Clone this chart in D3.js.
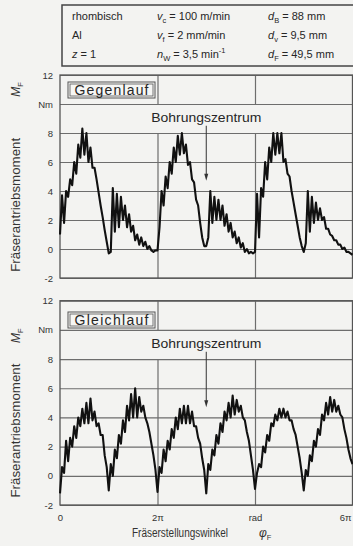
<!DOCTYPE html>
<html>
<head>
<meta charset="utf-8">
<script src="https://cdn.jsdelivr.net/npm/d3@7"></script>
<style>
  body { margin: 0; background: #f3f3f1; }
  svg { display: block; font-family: "Liberation Sans", Arial, sans-serif; }
</style>
</head>
<body>
<svg width="353" height="546"></svg>
<script>
const sampleStep = Math.PI / 24;

// Gegenlauf (up milling), one array per 2*pi revolution
const gegenRev1 = [1.0, 3.7, 1.8, 4.0, 3.6, 4.8, 4.4, 6.0, 5.2, 7.2, 6.3, 8.3, 6.5, 8.0, 6.0, 7.0,
  5.6, 5.6, 4.8, 3.9, 3.0, 2.2, 1.3, 0.5, -0.3, -0.2, 4.2, 1.2, 3.8, 1.5, 3.6, 2.0,
  3.0, 1.5, 2.4, 1.2, 1.6, 0.6, 1.0, 0.3, 0.8, 0.2, 0.5, 0.0, 0.2, -0.1, -0.2, -0.1];
const gegenRev2 = [-0.1, 1.5, 4.0, 3.0, 5.0, 4.2, 6.0, 5.2, 7.0, 6.0, 7.8, 6.5, 8.0, 6.6, 7.2, 5.8,
  6.0, 4.8, 4.6, 3.4, 3.0, 1.8, 0.8, 0.2, 0.2, 0.8, 4.0, 1.8, 3.6, 2.0, 3.4, 2.0,
  3.0, 1.6, 2.4, 1.2, 1.8, 0.8, 1.2, 0.4, 0.8, 0.1, 0.4, -0.2, 0.0, -0.3, -0.2, -0.3];
const gegenRev3 = [-0.2, 3.8, 0.8, 4.2, 3.6, 6.0, 4.8, 7.0, 6.0, 8.0, 6.5, 8.0, 6.6, 8.0, 6.0, 6.2,
  5.2, 5.0, 4.0, 3.2, 2.4, 1.6, 0.8, 0.2, -0.2, 0.4, 4.0, 1.2, 3.6, 1.8, 3.2, 2.0,
  2.8, 2.0, 2.2, 1.4, 1.4, 1.0, 0.9, 0.6, 0.6, 0.3, 0.3, 0.0, 0.1, -0.2, -0.2, -0.3, -0.4];

// Gleichlauf (down milling), one array per pi half revolution
const gleichHalf1 = [-1.2, 0.6, 0.2, 2.4, 1.0, 2.6, 2.0, 3.4, 2.6, 4.0, 3.4, 4.6, 3.6, 5.0, 3.6, 5.3, 3.8, 4.4, 3.4, 3.6, 2.8, 2.8, 1.4, 0.6];
const gleichHalf2 = [-1.0, 0.8, 0.0, 1.8, 1.2, 2.8, 2.2, 3.8, 3.0, 4.8, 3.8, 5.6, 4.0, 6.0, 4.0, 5.4, 4.4, 4.8, 4.0, 3.6, 3.0, 2.2, 1.4, 0.4];
const gleichHalf3 = [-1.1, 0.6, 0.2, 1.8, 1.0, 2.4, 1.8, 3.2, 2.6, 4.0, 3.2, 4.6, 3.6, 4.8, 3.6, 4.8, 3.6, 4.4, 3.4, 3.4, 2.6, 2.2, 1.2, 0.4];
const gleichHalf4 = [-1.2, 0.8, 0.4, 1.8, 1.4, 2.8, 2.2, 3.6, 3.0, 4.4, 3.8, 5.0, 4.0, 5.5, 4.2, 5.2, 4.4, 4.8, 4.0, 3.8, 3.0, 2.4, 1.4, 0.4];
const gleichHalf5 = [-0.9, 0.2, 0.8, 0.6, 2.0, 1.6, 2.8, 2.4, 3.6, 3.4, 4.2, 3.8, 4.6, 4.0, 4.6, 4.0, 4.4, 3.8, 3.8, 3.2, 2.8, 2.0, 1.2, 0.2];
const gleichHalf6 = [-1.0, 0.4, 0.0, 1.4, 1.0, 2.4, 2.0, 3.2, 2.8, 4.2, 3.8, 5.0, 4.2, 5.4, 4.4, 5.2, 4.4, 4.8, 4.2, 4.0, 3.2, 2.6, 1.8, 1.2, 0.8];

const gegenlauf = [...gegenRev1, ...gegenRev2, ...gegenRev3];
const gleichlauf = [...gleichHalf1, ...gleichHalf2, ...gleichHalf3, ...gleichHalf4, ...gleichHalf5, ...gleichHalf6];

const yTickValues = [-2, 0, 2, 4, 6, 8, 10, 12];
const yTickLabels = ['-2', '0', '2', '4', '6', '8', 'Nm', '12'];
const xTickValues = [0, 2 * Math.PI, 4 * Math.PI, 6 * Math.PI];
const xTickLabels = ['0', '2\u03C0', 'rad', '6\u03C0'];
const holeCentre = 3 * Math.PI;

const paramRows = [
  ['rhombisch', '*v_c = 100 m/min', '*d_B = 88 mm'],
  ['Al', '*v_f = 2 mm/min', '*d_v = 9,5 mm'],
  ['*z = 1', '*n_W = 3,5 min^-1', '*d_F = 49,5 mm'],
];

const ink = '#262626';
const gridColor = '#6d6d6d';

const svg = d3.select('svg');
const left = 60, right = 352.5;

const x = d3.scaleLinear().domain([0, 6 * Math.PI]).range([left, right]);

// parameter box
svg.append('rect')
  .attr('x', 62).attr('y', 5).attr('width', 320).attr('height', 61)
  .attr('fill', 'none').attr('stroke', '#444').attr('stroke-width', 1.5);

const colX = [72, 157, 268];
const rowY = [20, 39, 58];

function richText(sel, str) {
  let italic = str.startsWith('*');
  if (italic) str = str.slice(1);
  const parts = str.split(/(_\w|\^-1)/).filter(p => p !== '');
  parts.forEach((p, i) => {
    if (p.startsWith('_')) {
      sel.append('tspan').attr('font-size', 7.5).attr('dy', 2.5).text(p.slice(1));
    } else if (p.startsWith('^')) {
      sel.append('tspan').attr('font-size', 7.5).attr('dy', -5).text(p.slice(1));
    } else {
      const prev = parts[i - 1];
      const dy = prev && prev.startsWith('_') ? -2.5 : 0;
      const first = p.split(' ')[0];
      if (italic && i === 0) {
        sel.append('tspan').attr('font-style', 'italic').attr('dy', dy).text(first);
        sel.append('tspan').text(p.slice(first.length));
      } else {
        sel.append('tspan').attr('dy', dy).text(p);
      }
    }
  });
}

paramRows.forEach((row, r) => {
  row.forEach((cell, c) => {
    const t = svg.append('text')
      .attr('x', colX[c]).attr('y', rowY[r])
      .attr('font-size', 11).attr('fill', ink)
      .attr('xml:space', 'preserve');
    richText(t, cell);
  });
});

const panels = [
  { top: 75, bottom: 278, data: gegenlauf, label: 'Gegenlauf', labelY: 82, titleY: 3.05, mY: 11.0 },
  { top: 300.7, bottom: 505, data: gleichlauf, label: 'Gleichlauf', labelY: 312, titleY: 3.1, mY: 9.6 },
];

panels.forEach(p => {
  const y = d3.scaleLinear().domain([-2, 12]).range([p.bottom, p.top]);
  const g = svg.append('g');

  // horizontal grid
  g.append('g')
    .attr('transform', `translate(${left},0)`)
    .call(d3.axisLeft(y).tickValues(yTickValues).tickSize(-(right - left)).tickFormat(''))
    .call(a => a.select('.domain').remove())
    .call(a => a.selectAll('line').attr('stroke', gridColor).attr('stroke-width', 1.2));

  // vertical grid, interrupted between 8 and 10 for the annotation
  const vTicks = [2 * Math.PI, 4 * Math.PI];
  g.append('g')
    .attr('transform', `translate(0,${y(10)})`)
    .call(d3.axisBottom(x).tickValues(vTicks).tickSize(-(y(10) - y(12))).tickFormat(''))
    .call(a => a.select('.domain').remove())
    .call(a => a.selectAll('line').attr('stroke', gridColor).attr('stroke-width', 1.2));
  g.append('g')
    .attr('transform', `translate(0,${y(-2)})`)
    .call(d3.axisBottom(x).tickValues(vTicks).tickSize(-(y(-2) - y(8))).tickFormat(''))
    .call(a => a.select('.domain').remove())
    .call(a => a.selectAll('line').attr('stroke', gridColor).attr('stroke-width', 1.2));

  // frame
  g.append('rect')
    .attr('x', left).attr('y', y(12))
    .attr('width', right - left).attr('height', y(-2) - y(12))
    .attr('fill', 'none').attr('stroke', '#555').attr('stroke-width', 1.3);

  // y tick labels
  g.append('g')
    .attr('transform', `translate(${left},0)`)
    .call(d3.axisLeft(y).tickValues(yTickValues).tickSize(0).tickPadding(7)
      .tickFormat((d, i) => yTickLabels[i]))
    .call(a => a.select('.domain').remove())
    .call(a => a.selectAll('text').attr('font-size', 9.5).attr('fill', '#333')
      .attr('font-family', '"Liberation Sans", Arial, sans-serif'));

  // label box with double border
  const bx = 68, bw = 87, bh = 16;
  g.append('rect').attr('x', bx).attr('y', p.labelY).attr('width', bw).attr('height', bh)
    .attr('fill', '#f6f6f4').attr('stroke', '#555').attr('stroke-width', 1);
  g.append('rect').attr('x', bx + 2).attr('y', p.labelY + 2).attr('width', bw - 4).attr('height', bh - 4)
    .attr('fill', 'none').attr('stroke', '#555').attr('stroke-width', 0.8);
  g.append('text')
    .attr('x', bx + bw / 2).attr('y', p.labelY + 12.8)
    .attr('text-anchor', 'middle').attr('font-size', 14).attr('fill', ink)
    .attr('textLength', 74).attr('lengthAdjust', 'spacing')
    .text(p.label);

  // annotation
  const ax = x(holeCentre);
  g.append('text')
    .attr('x', ax).attr('y', y(8.75))
    .attr('text-anchor', 'middle').attr('font-size', 12).attr('fill', ink)
    .attr('textLength', 110).attr('lengthAdjust', 'spacingAndGlyphs')
    .text('Bohrungszentrum');
  const ay0 = y(8.5), ay1 = y(4.7);
  g.append('line').attr('x1', ax).attr('x2', ax).attr('y1', ay0).attr('y2', ay1 - 5)
    .attr('stroke', '#333').attr('stroke-width', 1);
  g.append('path')
    .attr('d', `M${ax - 2},${ay1 - 7}L${ax + 2},${ay1 - 7}L${ax},${ay1}Z`)
    .attr('fill', '#333');

  // torque trace
  const line = d3.line()
    .x((d, i) => x(i * sampleStep))
    .y(d => y(d));
  g.append('path')
    .datum(p.data)
    .attr('d', line)
    .attr('fill', 'none')
    .attr('stroke', '#111')
    .attr('stroke-width', 2.1)
    .attr('stroke-linejoin', 'round');

  // y axis title
  g.append('text')
    .attr('transform', `translate(20,${y(p.titleY)}) rotate(-90)`)
    .attr('text-anchor', 'middle').attr('font-size', 12).attr('fill', '#333')
    .attr('textLength', 134).attr('lengthAdjust', 'spacingAndGlyphs')
    .text('Fräserantriebsmoment');
  const mt = g.append('text')
    .attr('transform', `translate(20,${y(p.mY)}) rotate(-90)`)
    .attr('text-anchor', 'middle').attr('font-size', 12).attr('fill', '#333');
  mt.append('tspan').attr('font-style', 'italic').text('M');
  mt.append('tspan').attr('font-size', 7.5).attr('dy', 2.5).text('F');
});

// x axis labels under the lower panel
const yb = panels[1].bottom;
svg.append('g')
  .attr('transform', `translate(0,${yb})`)
  .call(d3.axisBottom(x).tickValues(xTickValues).tickSize(0).tickPadding(9)
    .tickFormat((d, i) => xTickLabels[i]))
  .call(a => a.select('.domain').remove())
  .call(a => a.selectAll('text').attr('font-size', 9.5).attr('fill', '#333')
    .attr('font-family', '"Liberation Sans", Arial, sans-serif'))
  .call(a => a.selectAll('.tick:last-of-type text').attr('text-anchor', 'end').attr('dx', -1.5));

svg.append('text')
  .attr('x', 180).attr('y', 537)
  .attr('text-anchor', 'middle').attr('font-size', 12).attr('fill', '#333')
  .attr('textLength', 96).attr('lengthAdjust', 'spacingAndGlyphs')
  .text('Fräserstellungswinkel');
const phi = svg.append('text').attr('x', 259).attr('y', 537).attr('font-size', 12).attr('fill', '#333');
phi.append('tspan').attr('font-style', 'italic').text('\u03C6');
phi.append('tspan').attr('font-size', 7.5).attr('dy', 2.5).text('F');
</script>
</body>
</html>
